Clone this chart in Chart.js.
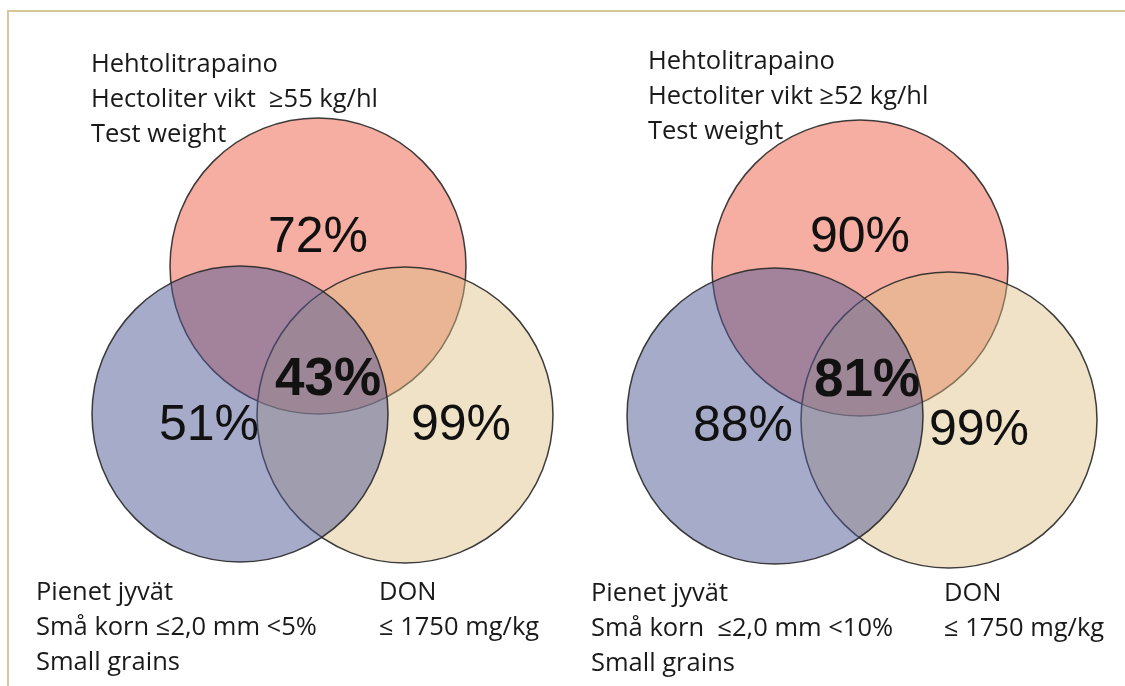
<!DOCTYPE html>
<html>
<head>
<meta charset="utf-8">
<script src="https://cdn.jsdelivr.net/npm/chart.js@4.4.1/dist/chart.umd.min.js"></script>
<style>
  html, body { margin: 0; padding: 0; background: #fff; }
  #wrap { position: relative; width: 1125px; height: 686px; }
</style>
</head>
<body>
<div id="wrap"><canvas id="venn"></canvas></div>
<script>
// --- data ---
const sets = ['Hehtolitrapaino', 'Pienet jyvät', 'DON'];
const panels = ['vänster', 'höger'];
// share passing each single criterion: [test weight, small grains, DON]
const singlePct = [[72, 51, 99], [90, 88, 99]];
// share passing all three
const allPct = [43, 81];

const topLabels = [
  ['Hehtolitrapaino', 'Hectoliter vikt  ≥55 kg/hl', 'Test weight'],
  ['Hehtolitrapaino', 'Hectoliter vikt ≥52 kg/hl', 'Test weight']
];
const grainLabels = [
  ['Pienet jyvät', 'Små korn ≤2,0 mm <5%', 'Small grains'],
  ['Pienet jyvät', 'Små korn  ≤2,0 mm <10%', 'Small grains']
];
const donLabels = [
  ['DON', '≤ 1750 mg/kg'],
  ['DON', '≤ 1750 mg/kg']
];

// --- layout (scale units = page pixels) ---
const circleCenters = [
  [[318, 266], [240, 414], [405, 415]],
  [[860, 268], [775, 416], [949, 420]]
];
const circleR = 148;
const singlePos = [
  [[318, 252], [209, 440], [461, 440]],
  [[860, 252], [743, 441], [979, 445]]
];
const allPos = [[328, 395], [867, 396]];
const topPos = [[91, 72], [648, 69]];
const grainPos = [[36, 600], [591, 601]];
const donPos = [[379, 600], [944, 601]];
const lineGap = 35;

const fills = ['rgba(240,120,100,0.6)', 'rgba(80,88,150,0.5)', 'rgba(220,190,130,0.45)'];

function circlePoints(k) {
  return panels.map((p, i) => ({
    x: circleCenters[i][k][0],
    y: circleCenters[i][k][1],
    r: circleR
  }));
}

// Chart.js draws dataset 0 on top: blue last, then yellow, red at the bottom
const datasets = [1, 2, 0].map(k => ({
  label: sets[k],
  data: circlePoints(k),
  backgroundColor: fills[k],
  borderColor: 'rgba(40,40,40,0.9)',
  borderWidth: 1.5,
  hoverRadius: 0,
  clip: false
}));

const textPlugin = {
  id: 'vennText',
  beforeDraw(chart) {
    const ctx = chart.ctx;
    ctx.save();
    ctx.fillStyle = '#fff';
    ctx.fillRect(0, 0, chart.width, chart.height);
    ctx.strokeStyle = '#d6c69c';
    ctx.lineWidth = 2;
    ctx.beginPath();
    ctx.moveTo(8, chart.height);
    ctx.lineTo(8, 11);
    ctx.lineTo(chart.width, 11);
    ctx.stroke();
    ctx.restore();
  },
  afterDatasetsDraw(chart) {
    const ctx = chart.ctx;
    const xs = chart.scales.x, ys = chart.scales.y;
    const px = v => xs.getPixelForValue(v);
    const py = v => ys.getPixelForValue(v);
    ctx.save();
    ctx.fillStyle = '#111';
    ctx.textBaseline = 'alphabetic';

    ctx.textAlign = 'center';
    ctx.font = '50px "Liberation Sans", Arial, sans-serif';
    singlePct.forEach((row, i) => row.forEach((v, k) => {
      ctx.fillText(v + '%', px(singlePos[i][k][0]), py(singlePos[i][k][1]));
    }));
    ctx.font = 'bold 53px "Liberation Sans", Arial, sans-serif';
    allPct.forEach((v, i) => {
      ctx.fillText(v + '%', px(allPos[i][0]), py(allPos[i][1]));
    });

    ctx.textAlign = 'left';
    ctx.fillStyle = '#1a1a1a';
    ctx.font = '25.5px "Open Sans", sans-serif';
    const block = (lines, pos) => lines.forEach((t, j) => {
      ctx.fillText(t, px(pos[0]), py(pos[1] + j * lineGap));
    });
    panels.forEach((p, i) => {
      block(topLabels[i], topPos[i]);
      block(grainLabels[i], grainPos[i]);
      block(donLabels[i], donPos[i]);
    });
    ctx.restore();
  }
};

new Chart(document.getElementById('venn'), {
  type: 'bubble',
  data: { datasets: datasets },
  options: {
    responsive: true,
    maintainAspectRatio: false,
    animation: false,
    events: [],
    layout: { padding: 0, autoPadding: false },
    plugins: { legend: { display: false }, tooltip: { enabled: false } },
    scales: {
      x: { type: 'linear', min: 0, max: 1125, display: false },
      y: { type: 'linear', min: 0, max: 686, reverse: true, display: false }
    }
  },
  plugins: [textPlugin]
});
</script>
</body>
</html>
